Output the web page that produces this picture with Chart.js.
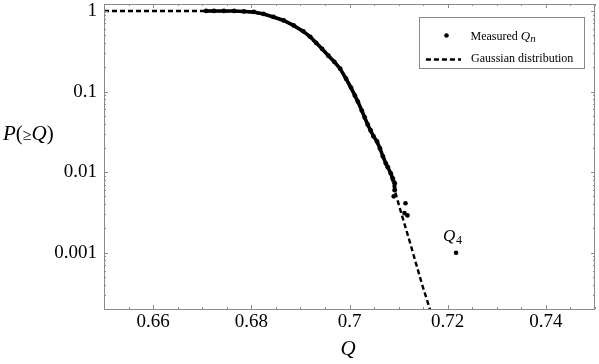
<!DOCTYPE html>
<html lang="en">
<head>
<meta charset="UTF-8" />
<title>P(≥Q) versus Q</title>
<script src="https://cdn.jsdelivr.net/npm/chart.js"></script>
<style>
  html, body { margin: 0; padding: 0; background: #fff; }
  #wrap { width: 599px; height: 364px; }
</style>
</head>
<body>
<div id="wrap"><canvas id="chart"></canvas></div>
<script>
// Measured Q_n, the dense run of points
const measuredQ = [0.6708, 0.6724, 0.6744, 0.6765, 0.6785, 0.6805, 0.6825, 0.6845, 0.6866, 0.6886,
  0.6906, 0.6920, 0.6932, 0.6944, 0.6957, 0.6969, 0.6981, 0.6993, 0.7003, 0.7011,
  0.7017, 0.7025, 0.7031, 0.7037, 0.7043, 0.7049, 0.7056, 0.7062, 0.7068, 0.7074,
  0.7078, 0.7084, 0.7088, 0.7092, 0.7092];
const measuredP = [1, 1, 1, 1, 0.986, 0.972, 0.918, 0.843, 0.763, 0.662,
  0.558, 0.477, 0.402, 0.339, 0.278, 0.234, 0.192, 0.144, 0.112, 0.0889,
  0.075, 0.058, 0.0476, 0.039, 0.0329, 0.0277, 0.024, 0.0197, 0.0157, 0.0128,
  0.0115, 0.00966, 0.00838, 0.00727, 0.00596];

// Measured Q_n, the isolated tail points (last one is Q4)
const tailQ = [0.7090, 0.7114, 0.7112, 0.7118, 0.7217];
const tailP = [0.0050, 0.0041, 0.0031, 0.0029, 0.0010];

// Gaussian distribution
const gaussQ = [0.6500, 0.6708, 0.6785, 0.6825, 0.6866, 0.6906, 0.6944, 0.6981, 0.7011, 0.7037,
  0.7062, 0.7084, 0.7092, 0.7106, 0.7120, 0.7134, 0.7148, 0.7166];
const gaussP = [1, 1, 0.986, 0.918, 0.763, 0.558, 0.339, 0.192, 0.0889, 0.039,
  0.0197, 0.00966, 0.00596, 0.00301, 0.00156, 0.00079, 0.0004, 0.00018];

const xTicks = [0.66, 0.68, 0.70, 0.72, 0.74];
const yTicks = [0.001, 0.01, 0.1, 1];
const seriesLabels = ["Measured", "Gaussian distribution"];

const toPoints = (xs, ys) => xs.map((x, i) => ({ x: x, y: ys[i] }));

const SERIF = "'Liberation Serif', 'DejaVu Serif', serif";
const AXIS = "#8a8a8a";

// frame, inward ticks, axis titles, Q4 label and legend
const decorations = {
  id: "decorations",
  afterDraw(chart) {
    const ctx = chart.ctx;
    const a = chart.chartArea;
    const xs = chart.scales.x;
    const ys = chart.scales.y;
    ctx.save();

    ctx.strokeStyle = AXIS;
    ctx.lineWidth = 1;
    ctx.strokeRect(a.left + 0.5, a.top + 0.5, a.right - a.left - 1, a.bottom - a.top);

    ctx.beginPath();
    for (let v = 0.65; v <= 0.7501; v += 0.005) {
      const px = Math.round(xs.getPixelForValue(v)) + 0.5;
      const major = xTicks.some((t) => Math.abs(t - v) < 1e-6);
      const len = major ? 4 : 2;
      ctx.moveTo(px, a.bottom); ctx.lineTo(px, a.bottom - len);
      ctx.moveTo(px, a.top); ctx.lineTo(px, a.top + len);
    }
    for (let d = -4; d <= 0; d++) {
      for (let k = 1; k <= 9; k++) {
        const v = k * Math.pow(10, d);
        if (v < ys.min || v > ys.max) continue;
        const py = Math.round(ys.getPixelForValue(v)) + 0.5;
        const len = k === 1 ? 4 : 2;
        ctx.moveTo(a.left, py); ctx.lineTo(a.left + len, py);
        ctx.moveTo(a.right, py); ctx.lineTo(a.right - len, py);
      }
    }
    ctx.stroke();

    ctx.fillStyle = "#000";
    ctx.textBaseline = "alphabetic";

    // y title: P(≥Q)
    let x = 3;
    const yb = 140;
    const parts = [
      ["italic 21px " + SERIF, "P"],
      ["21px " + SERIF, "("],
      ["16px " + SERIF, "≥"],
      ["italic 21px " + SERIF, "Q"],
      ["21px " + SERIF, ")"],
    ];
    parts.forEach(([f, t]) => {
      ctx.font = f;
      ctx.fillText(t, x, yb);
      x += ctx.measureText(t).width;
    });

    // x title
    ctx.font = "italic 21px " + SERIF;
    ctx.textAlign = "center";
    ctx.fillText("Q", 348, 355);
    ctx.textAlign = "left";

    // Q4 label
    const qx = xs.getPixelForValue(tailQ[tailQ.length - 1]);
    const qy = ys.getPixelForValue(tailP[tailP.length - 1]);
    ctx.font = "italic 17px " + SERIF;
    ctx.fillText("Q", qx - 13, qy - 12);
    ctx.font = "12px " + SERIF;
    ctx.fillText("4", qx, qy - 9);

    // legend
    ctx.fillStyle = "#fff";
    ctx.fillRect(419, 17, 165, 51);
    ctx.strokeStyle = AXIS;
    ctx.strokeRect(419.5, 17.5, 165, 51);
    ctx.fillStyle = "#000";
    ctx.beginPath();
    ctx.arc(446.5, 35.5, 2.3, 0, Math.PI * 2);
    ctx.fill();
    ctx.strokeStyle = "#000";
    ctx.lineWidth = 2.4;
    ctx.setLineDash([5, 3]);
    ctx.beginPath();
    ctx.moveTo(426, 59.5);
    ctx.lineTo(461, 59.5);
    ctx.stroke();
    ctx.setLineDash([]);

    ctx.font = "12px " + SERIF;
    ctx.fillText(seriesLabels[0] + " ", 470.5, 40);
    let lx = 470.5 + ctx.measureText(seriesLabels[0] + " ").width;
    ctx.font = "italic 13px " + SERIF;
    ctx.fillText("Q", lx, 40);
    lx += ctx.measureText("Q").width;
    ctx.font = "italic 11px " + SERIF;
    ctx.fillText("n", lx, 42);
    ctx.font = "12px " + SERIF;
    ctx.fillText(seriesLabels[1], 471, 62);

    ctx.restore();
  },
};

new Chart(document.getElementById("chart"), {
  type: "scatter",
  data: {
    datasets: [
      {
        label: seriesLabels[1],
        data: toPoints(gaussQ, gaussP),
        showLine: true,
        borderColor: "#000",
        borderWidth: 2.4,
        borderDash: [5, 3],
        pointRadius: 0,
        order: 2,
      },
      {
        label: seriesLabels[0],
        data: toPoints(measuredQ, measuredP),
        showLine: true,
        borderColor: "#000",
        backgroundColor: "#000",
        borderWidth: 3.6,
        pointRadius: 2.4,
        pointBorderWidth: 0,
        order: 1,
      },
      {
        label: seriesLabels[0] + " tail",
        data: toPoints(tailQ, tailP),
        backgroundColor: "#000",
        borderColor: "#000",
        pointRadius: 2.3,
        pointBorderWidth: 0,
        order: 0,
      },
    ],
  },
  options: {
    responsive: true,
    maintainAspectRatio: false,
    animation: false,
    layout: { padding: { top: 3, right: 0, left: 0, bottom: 0 } },
    plugins: {
      legend: { display: false },
      tooltip: { enabled: false },
    },
    scales: {
      x: {
        type: "linear",
        min: 0.65,
        max: 0.75,
        afterBuildTicks: (s) => { s.ticks = xTicks.map((v) => ({ value: v })); },
        afterFit: (s) => { s.height = 55; s.paddingLeft = 0; s.paddingRight = 0; },
        grid: { display: false, drawTicks: false },
        border: { display: false },
        ticks: {
          padding: 2,
          maxRotation: 0,
          color: "#000",
          font: { family: SERIF, size: 19 },
          callback: (v) => String(Math.round(v * 100) / 100),
        },
      },
      y: {
        type: "logarithmic",
        min: 0.0002,
        max: 1.22,
        afterBuildTicks: (s) => { s.ticks = yTicks.map((v) => ({ value: v })); },
        afterFit: (s) => { s.width = 104; s.paddingTop = 0; s.paddingBottom = 0; },
        grid: { display: false, drawTicks: false },
        border: { display: false },
        ticks: {
          padding: 7,
          color: "#000",
          font: { family: SERIF, size: 19 },
          callback: (v) => String(v),
        },
      },
    },
  },
  plugins: [decorations],
});
</script>
</body>
</html>
